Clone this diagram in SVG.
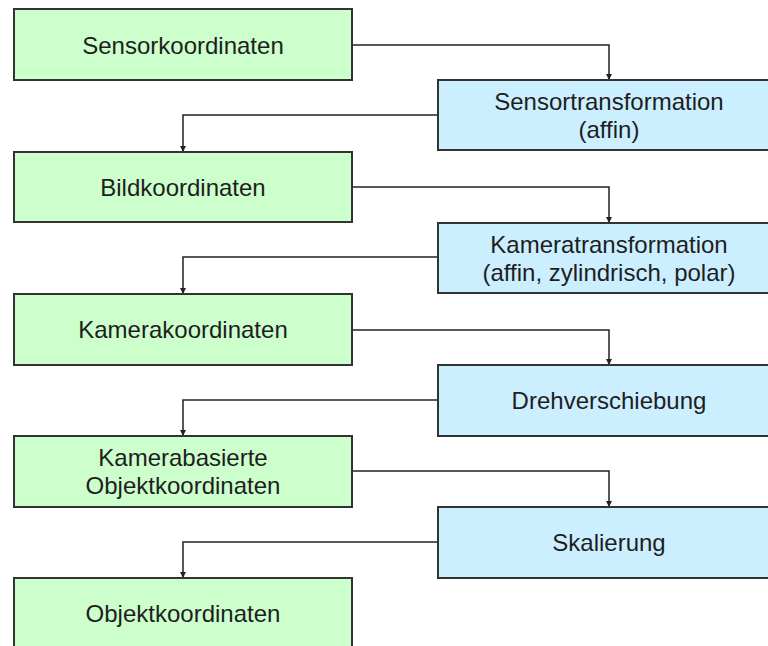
<svg xmlns="http://www.w3.org/2000/svg" width="768" height="646" viewBox="0 0 768 646">
<style>
.g{fill:#ccffcc;stroke:#333;stroke-width:2}
.b{fill:#ccefff;stroke:#333;stroke-width:2}
.t{font-family:"Liberation Sans",Arial,sans-serif;font-size:24px;fill:#1e1e1e;text-anchor:middle}
.c{fill:none;stroke:#222;stroke-width:1.5}
</style>
<defs>
<marker id="ah" markerWidth="6" markerHeight="6" refX="5" refY="3" orient="auto" markerUnits="userSpaceOnUse">
<path d="M0,0 L6,3 L0,6 Z" fill="#222"/>
</marker>
</defs>
<rect width="768" height="646" fill="#fff"/>
<g id="connectors">
<path class="c" d="M352,45 H609 V79" marker-end="url(#ah)"/>
<path class="c" d="M438,115 H183 V151" marker-end="url(#ah)"/>
<path class="c" d="M352,187 H609 V222" marker-end="url(#ah)"/>
<path class="c" d="M438,257 H183 V293" marker-end="url(#ah)"/>
<path class="c" d="M352,330 H609 V364" marker-end="url(#ah)"/>
<path class="c" d="M438,400 H183 V435" marker-end="url(#ah)"/>
<path class="c" d="M352,471 H609 V506" marker-end="url(#ah)"/>
<path class="c" d="M438,542 H183 V577" marker-end="url(#ah)"/>
</g>
<g id="sensorkoordinaten">
<rect class="g" x="14" y="9" width="338" height="71"/>
<text class="t" x="183" y="54">Sensorkoordinaten</text>
</g>
<g id="sensortransformation">
<rect class="b" x="438" y="80" width="345" height="70"/>
<text class="t" x="609" y="110">Sensortransformation</text>
<text class="t" x="609" y="138">(affin)</text>
</g>
<g id="bildkoordinaten">
<rect class="g" x="14" y="152" width="338" height="70"/>
<text class="t" x="183" y="196">Bildkoordinaten</text>
</g>
<g id="kameratransformation">
<rect class="b" x="438" y="223" width="345" height="70"/>
<text class="t" x="609" y="253">Kameratransformation</text>
<text class="t" x="609" y="281">(affin, zylindrisch, polar)</text>
</g>
<g id="kamerakoordinaten">
<rect class="g" x="14" y="294" width="338" height="71"/>
<text class="t" x="183" y="338">Kamerakoordinaten</text>
</g>
<g id="drehverschiebung">
<rect class="b" x="438" y="365" width="345" height="71"/>
<text class="t" x="609" y="409">Drehverschiebung</text>
</g>
<g id="kamerabasierte">
<rect class="g" x="14" y="436" width="338" height="71"/>
<text class="t" x="183" y="466">Kamerabasierte</text>
<text class="t" x="183" y="494">Objektkoordinaten</text>
</g>
<g id="skalierung">
<rect class="b" x="438" y="507" width="345" height="71"/>
<text class="t" x="609" y="551">Skalierung</text>
</g>
<g id="objektkoordinaten">
<rect class="g" x="14" y="578" width="338" height="72"/>
<text class="t" x="183" y="622">Objektkoordinaten</text>
</g>
</svg>
